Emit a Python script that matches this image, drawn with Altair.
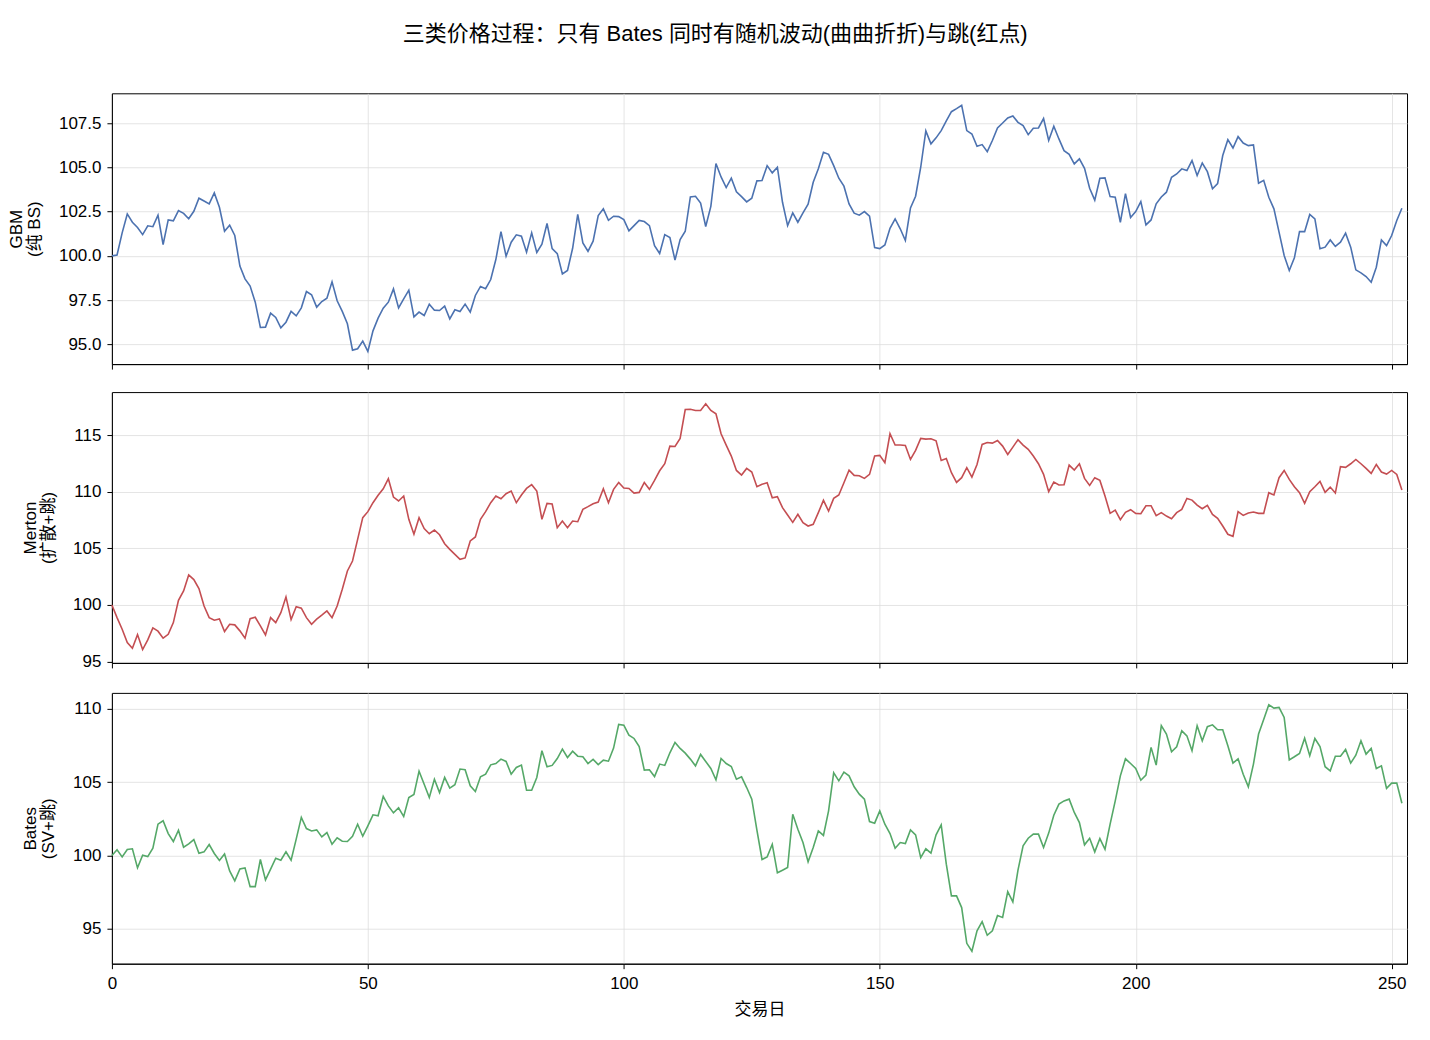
import altair as alt
import pandas as pd

days = list(range(253))

gbm = [
    100.0, 100.05, 101.3, 102.37, 101.9, 101.6, 101.2, 101.7, 101.65, 102.3,
    100.64, 102.03, 101.98, 102.56, 102.4, 102.1, 102.52, 103.26, 103.1, 102.94,
    103.56, 102.75, 101.39, 101.73, 101.15, 99.42, 98.7, 98.29, 97.38, 95.95,
    95.97, 96.76, 96.52, 95.93, 96.25, 96.86, 96.61, 97.06, 97.98, 97.8,
    97.1, 97.42, 97.61, 98.53, 97.46, 96.86, 96.16, 94.67, 94.75, 95.18,
    94.6, 95.76, 96.48, 97.04, 97.38, 98.13, 97.06, 97.57, 98.06, 96.55,
    96.82, 96.63, 97.27, 96.93, 96.91, 97.16, 96.44, 96.95, 96.85, 97.27,
    96.82, 97.76, 98.27, 98.14, 98.66, 99.79, 101.37, 99.98, 100.77, 101.19,
    101.11, 100.21, 101.3, 100.19, 100.66, 101.83, 100.41, 100.13, 98.98, 99.17,
    100.43, 102.34, 100.73, 100.26, 100.83, 102.28, 102.66, 102.01, 102.24, 102.22,
    102.05, 101.41, 101.71, 102.0, 101.94, 101.71, 100.58, 100.13, 101.2, 101.04,
    99.76, 100.92, 101.39, 103.33, 103.37, 102.98, 101.66, 102.8, 105.22, 104.46,
    103.86, 104.39, 103.62, 103.35, 103.05, 103.26, 104.24, 104.26, 105.1, 104.69,
    105.01, 103.03, 101.71, 102.43, 101.9, 102.43, 102.92, 104.16, 104.92, 105.86,
    105.74, 105.1, 104.39, 103.94, 102.94, 102.41, 102.3, 102.5, 102.24, 100.47,
    100.41, 100.62, 101.56, 102.09, 101.53, 100.87, 102.71, 103.37, 105.01, 107.06,
    106.33, 106.67, 107.08, 107.63, 108.15, 108.32, 108.51, 107.08, 106.89, 106.2,
    106.29, 105.89, 106.52, 107.23, 107.51, 107.8, 107.91, 107.55, 107.36, 106.85,
    107.21, 107.23, 107.76, 106.52, 107.33, 106.61, 105.95, 105.74, 105.2, 105.48,
    104.95, 103.82, 103.15, 104.39, 104.41, 103.35, 103.31, 101.9, 103.52, 102.17,
    102.5, 103.07, 101.75, 102.03, 102.94, 103.33, 103.6, 104.44, 104.63, 104.92,
    104.82, 105.39, 104.54, 105.25, 104.76, 103.79, 104.09, 105.67, 106.57, 106.1,
    106.74, 106.38, 106.23, 106.27, 104.11, 104.27, 103.31, 102.66, 101.34, 100.02,
    99.17, 99.89, 101.37, 101.37, 102.34, 102.09, 100.4, 100.49, 100.9, 100.53,
    100.77, 101.28, 100.49, 99.21, 99.04, 98.83, 98.51, 99.36, 100.9, 100.58,
    101.15, 102.0, 102.69,
]

merton = [
    100.0, 98.88, 97.85, 96.68, 96.18, 97.38, 96.06, 96.91, 97.97, 97.68,
    97.06, 97.41, 98.44, 100.41, 101.24, 102.65, 102.24, 101.44, 99.91, 98.88,
    98.65, 98.76, 97.65, 98.29, 98.24, 97.71, 97.06, 98.79, 98.91, 98.15,
    97.35, 98.88, 98.44, 99.32, 100.71, 98.71, 99.85, 99.71, 98.88, 98.29,
    98.74, 99.09, 99.47, 98.88, 99.91, 101.38, 103.0, 103.88, 105.79, 107.71,
    108.24, 109.03, 109.68, 110.26, 111.15, 109.53, 109.18, 109.62, 107.56, 106.24,
    107.71, 106.74, 106.29, 106.62, 106.2, 105.41, 104.91, 104.47, 104.03, 104.15,
    105.65, 106.0, 107.56, 108.24, 109.03, 109.62, 109.38, 109.82, 110.06, 109.03,
    109.71, 110.29, 110.62, 110.06, 107.56, 108.97, 108.91, 106.82, 107.41, 106.82,
    107.41, 107.35, 108.44, 108.68, 108.94, 109.09, 110.26, 109.03, 110.21, 110.82,
    110.32, 110.29, 109.88, 109.94, 110.82, 110.21, 111.0, 111.85, 112.47, 114.03,
    114.0, 114.71, 117.26, 117.29, 117.18, 117.18, 117.76, 117.18, 116.88, 115.12,
    114.12, 113.15, 111.88, 111.47, 112.06, 111.74, 110.44, 110.65, 110.79, 109.47,
    109.56, 108.59, 107.94, 107.29, 108.0, 107.26, 106.97, 107.12, 108.15, 109.24,
    108.29, 109.41, 109.71, 110.79, 111.91, 111.44, 111.41, 111.18, 111.53, 113.15,
    113.21, 112.56, 115.12, 114.12, 114.12, 114.09, 112.85, 113.65, 114.71, 114.65,
    114.68, 114.5, 112.76, 112.94, 111.68, 110.82, 111.24, 112.12, 111.29, 112.41,
    114.18, 114.35, 114.29, 114.53, 114.03, 113.29, 113.94, 114.59, 114.12, 113.74,
    113.15, 112.47, 111.53, 110.0, 110.85, 110.59, 110.62, 112.35, 111.91, 112.47,
    111.18, 110.56, 111.24, 111.0, 109.62, 108.09, 108.38, 107.53, 108.18, 108.41,
    108.09, 108.06, 108.76, 108.76, 107.88, 108.15, 107.85, 107.62, 108.15, 108.44,
    109.41, 109.26, 108.82, 108.5, 108.79, 108.0, 107.65, 106.97, 106.24, 106.06,
    108.24, 107.91, 108.12, 108.21, 108.09, 108.09, 109.91, 109.71, 111.24, 111.88,
    111.09, 110.44, 109.91, 108.97, 110.0, 110.44, 110.91, 109.94, 110.41, 109.88,
    112.21, 112.15, 112.47, 112.85, 112.47, 112.06, 111.62, 112.41, 111.74, 111.56,
    111.88, 111.53, 110.15,
]

bates = [
    100.0, 100.39, 99.91, 100.41, 100.46, 99.16, 100.02, 99.93, 100.5, 102.14,
    102.37, 101.5, 100.96, 101.73, 100.57, 100.8, 101.09, 100.16, 100.25, 100.75,
    100.14, 99.66, 100.11, 98.95, 98.27, 99.09, 99.16, 97.88, 97.88, 99.73,
    98.34, 99.07, 99.82, 99.68, 100.25, 99.68, 101.12, 102.6, 101.84, 101.68,
    101.75, 101.27, 101.57, 100.77, 101.21, 100.98, 100.96, 101.32, 102.14, 101.32,
    102.03, 102.78, 102.71, 104.03, 103.39, 102.91, 103.26, 102.66, 103.96, 104.17,
    105.76, 104.87, 103.96, 105.21, 104.3, 105.33, 104.6, 104.83, 105.9, 105.85,
    104.76, 104.37, 105.37, 105.55, 106.19, 106.28, 106.58, 106.42, 105.55, 106.01,
    106.17, 104.46, 104.46, 105.33, 107.15, 106.06, 106.15, 106.62, 107.26, 106.69,
    107.12, 106.78, 106.74, 106.28, 106.56, 106.21, 106.51, 106.44, 107.33, 108.95,
    108.9, 108.22, 107.99, 107.44, 105.83, 105.85, 105.39, 106.24, 106.15, 107.01,
    107.72, 107.31, 106.99, 106.58, 106.12, 106.9, 106.42, 105.94, 105.17, 106.62,
    106.28, 106.08, 105.21, 105.37, 104.64, 103.85, 101.73, 99.73, 99.91, 100.77,
    98.82, 99.0, 99.18, 102.82, 101.8, 100.89, 99.57, 100.55, 101.68, 101.37,
    103.05, 105.65, 105.1, 105.69, 105.44, 104.69, 104.19, 103.85, 102.32, 102.21,
    103.05, 102.14, 101.5, 100.5, 100.89, 100.82, 101.75, 101.41, 99.86, 100.46,
    100.16, 101.41, 102.09, 99.41, 97.25, 97.25, 96.45, 94.01, 93.47, 94.86,
    95.49, 94.56, 94.86, 95.9, 95.77, 97.54, 96.84, 99.0, 100.66, 101.18,
    101.46, 101.46, 100.55, 101.53, 102.75, 103.51, 103.73, 103.85, 102.94, 102.25,
    100.73, 101.18, 100.25, 101.16, 100.43, 102.14, 103.73, 105.44, 106.6, 106.28,
    105.94, 105.14, 105.49, 107.38, 106.17, 108.86, 108.29, 107.08, 107.42, 108.51,
    108.17, 107.15, 108.86, 107.83, 108.79, 108.92, 108.58, 108.58, 107.49, 106.31,
    106.6, 105.55, 104.69, 106.24, 108.29, 109.29, 110.29, 110.06, 110.11, 109.42,
    106.53, 106.74, 106.97, 108.01, 106.81, 107.99, 107.44, 106.06, 105.78, 106.78,
    106.78, 107.24, 106.31, 106.85, 107.83, 106.92, 107.31, 105.94, 106.12, 104.58,
    104.94, 104.94, 103.57,
]

x_ticks = [0, 50, 100, 150, 200, 250]
gbm_ticks = [95.0, 97.5, 100.0, 102.5, 105.0, 107.5]
merton_ticks = [95, 100, 105, 110, 115]
bates_ticks = [95, 100, 105, 110]

FONT = "Liberation Sans, Arial, Noto Sans CJK SC, sans-serif"
W, H = 1296, 271


def panel(values, color, ylabel, ydomain, yticks, yfmt, bottom):
    n = min(len(days), len(values))
    df = pd.DataFrame({"day": days[:n], "price": values[:n]})
    xkw = dict(values=x_ticks, grid=True, tickSize=5, format="d", titlePadding=10,
               labelPadding=7, labelFlush=False)
    if bottom:
        xkw.update(title="交易日", labels=True)
    else:
        xkw.update(title="", labels=False)
    return (
        alt.Chart(df)
        .mark_line(color=color, strokeWidth=1.6)
        .encode(
            x=alt.X("day:Q", scale=alt.Scale(domain=[0, 253], nice=False, zero=False),
                    axis=alt.Axis(**xkw)),
            y=alt.Y("price:Q", scale=alt.Scale(domain=ydomain, nice=False, zero=False),
                    axis=alt.Axis(values=yticks, format=yfmt, title=ylabel, tickSize=5,
                                  titlePadding=15, labelPadding=6, labelFlush=False,
                                  titleLineHeight=18)),
        )
        .properties(width=W, height=H)
    )


p1 = panel(gbm, "#4c72b0", ["GBM", "(纯 BS)"], [93.88, 109.19], gbm_ticks, ".1f", False)
p2 = panel(merton, "#c44e52", ["Merton", "(扩散+跳)"], [94.88, 118.8], merton_ticks, "d", False)
p3 = panel(bates, "#55a868", ["Bates", "(SV+跳)"], [92.62, 111.1], bates_ticks, "d", True)

chart = (
    alt.vconcat(p1, p2, p3, spacing=21)
    .properties(
        title=alt.TitleParams(
            text="三类价格过程：只有 Bates 同时有随机波动(曲曲折折)与跳(红点)",
            font=FONT, fontSize=22, fontWeight="normal", color="black",
            anchor="middle", offset=47, dx=8,
        ),
        padding={"left": 6, "top": 22, "right": 22, "bottom": 22},
    )
    .configure(font=FONT, background="white")
    .configure_view(stroke="black", strokeWidth=1)
    .configure_axis(
        labelFont=FONT, titleFont=FONT, labelFontSize=17, titleFontSize=17,
        labelColor="black", titleColor="black", titleFontWeight="normal",
        domainColor="black", tickColor="black", domainWidth=1, tickWidth=1,
        gridColor="#dddddd", gridWidth=0.8,
    )
)

chart.save("out.html", embed_options={"renderer": "svg", "actions": False})
